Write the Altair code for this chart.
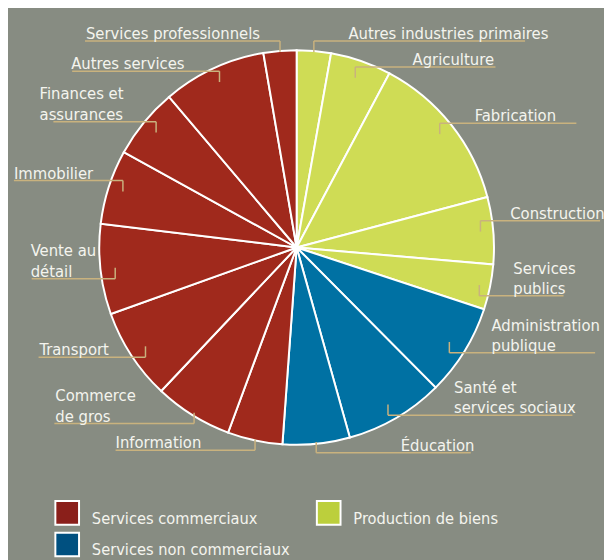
import altair as alt
import pandas as pd
import numpy as np

# ---- data ----
categories = [
    "Autres industries primaires", "Agriculture", "Fabrication", "Construction",
    "Services publics", "Administration publique", "Santé et services sociaux",
    "Éducation", "Information", "Commerce de gros", "Transport",
    "Vente au détail", "Immobilier", "Finances et assurances",
    "Autres services", "Services professionnels",
]
label_lines = [
    ["Autres industries primaires"], ["Agriculture"], ["Fabrication"], ["Construction"],
    ["Services", "publics"], ["Administration", "publique"], ["Santé et", "services sociaux"],
    ["Éducation"], ["Information"], ["Commerce", "de gros"], ["Transport"],
    ["Vente au", "détail"], ["Immobilier"], ["Finances et", "assurances"],
    ["Autres services"], ["Services professionnels"],
]
values = [2.8, 5.0, 13.1, 5.5, 3.7, 7.5, 8.1, 5.5, 4.5, 6.4, 7.5, 7.4, 6.1, 5.8, 8.5, 2.7]
groups = (["Production de biens"] * 5 + ["Services non commerciaux"] * 3
          + ["Services commerciaux"] * 8)
legend_order = ["Services commerciaux", "Production de biens", "Services non commerciaux"]

# ---- styles / layout ----
pie_colors = {"Services commerciaux": "#A0291C", "Services non commerciaux": "#0071A3",
              "Production de biens": "#CFDC55"}
legend_colors = {"Services commerciaux": "#8A1F1A", "Services non commerciaux": "#005080",
                 "Production de biens": "#BCCF3C"}
BG = "#878C82"
TAN = "#C9B27E"
TXT = "#F4F4EE"
FONT = "DejaVu Sans Condensed"
FS_LABEL = 16.7
FS_LEGEND = 16.5
W, H = 604, 552
CX, CY, R = 300.5, 247.0, 200.0          # page coordinates
anchor_r = [199, 182, 185, 187, 189, 182, 184, 198, 199, 197, 183, 185, 185, 184, 185, 199]
text_x = [353, 418, 481, 517, 520, 498, 460, 406, 117, 56, 40, 31, 14, 40, 72, 87]
line_end = [532, 502, 584, 608, 571, 603, 580, 477, 117, 55, 39, 32, 14, 54, 73, 86]
TICK = 11
GAP = 2
LINE_H = 20.5

# ---- derived tables ----
vals = np.array(values, dtype=float)
cum = np.cumsum(vals)
mid = (cum - vals / 2) / vals.sum() * 2 * np.pi
ax = CX + np.array(anchor_r) * np.sin(mid)
ay = CY - np.array(anchor_r) * np.cos(mid)
down = np.cos(mid) > 0
uy = np.where(down, ay - TICK, ay + TICK)

pie_df = pd.DataFrame({"cat": categories, "value": values, "order": range(len(values)),
                       "color": [pie_colors[g] for g in groups]})
lead_df = pd.DataFrame({"cat": categories, "ax": ax, "ay": ay, "uy": uy, "ex": line_end})
rows = []
for i, lines in enumerate(label_lines):
    n = len(lines)
    for j, ln in enumerate(lines):
        rows.append({"line": ln, "tx": text_x[i],
                     "ty": uy[i] - GAP - (n - 1 - j) * LINE_H})
text_df = pd.DataFrame(rows)

leg_pos = {"Services commerciaux": (68, 516), "Production de biens": (333, 516),
           "Services non commerciaux": (68, 548)}
leg_df = pd.DataFrame({
    "name": legend_order,
    "sx": [leg_pos[g][0] for g in legend_order],
    "sy": [leg_pos[g][1] for g in legend_order],
    "color": [legend_colors[g] for g in legend_order],
})
leg_df["tx"] = leg_df["sx"] + 25
leg_df["ty"] = leg_df["sy"] + 11

xs = alt.Scale(domain=[8, 8 + W], range=[0, W])
ys = alt.Scale(domain=[8, 8 + H], range=[0, H])


def X(f):
    return alt.X(f, type="quantitative", scale=xs, axis=None)


def Y(f):
    return alt.Y(f, type="quantitative", scale=ys, axis=None)


pie = alt.Chart(pie_df).mark_arc(outerRadius=R, stroke="white", strokeWidth=2).encode(
    theta=alt.Theta("value:Q", stack=True),
    order=alt.Order("order:Q"),
    color=alt.Color("color:N", scale=None),
    x=alt.value(CX - 8), y=alt.value(CY - 8),
)

ticks = alt.Chart(lead_df).mark_rule(color=TAN, strokeWidth=1.5).encode(
    x=X("ax"), y=Y("ay"), y2="uy:Q")
unders = alt.Chart(lead_df).mark_rule(color=TAN, strokeWidth=1.5).encode(
    x=X("ax"), x2="ex:Q", y=Y("uy"))
labels = alt.Chart(text_df).mark_text(align="left", baseline="alphabetic", font=FONT,
                                      fontSize=FS_LABEL, color=TXT).encode(
    x=X("tx"), y=Y("ty"), text="line:N")

leg_sq = alt.Chart(leg_df).mark_square(size=576, stroke="white", strokeWidth=2,
                                       opacity=1, filled=True).encode(
    x=X("sx"), y=Y("sy"), color=alt.Color("color:N", scale=None))
leg_tx = alt.Chart(leg_df).mark_text(align="left", baseline="alphabetic", font=FONT,
                                     fontSize=FS_LEGEND, color=TXT).encode(
    x=X("tx"), y=Y("ty"), text="name:N")

chart = alt.layer(pie, ticks, unders, labels, leg_sq, leg_tx).properties(
    width=W, height=H, background=BG, padding=0, autosize="none"
).configure_view(stroke=None)

chart.save("out.html", embed_options={"renderer": "svg", "actions": False})
